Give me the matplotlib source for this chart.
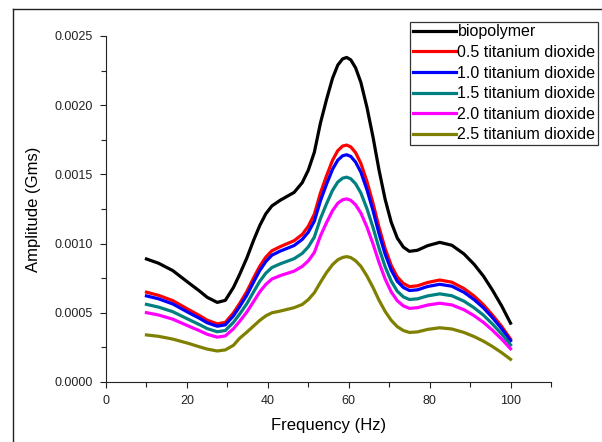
import matplotlib
matplotlib.use("Agg")
import matplotlib.pyplot as plt
import numpy as np
from matplotlib.lines import Line2D
from matplotlib.ticker import MultipleLocator, FormatStrFormatter

plt.rcParams.update({
    "font.family": ["Liberation Sans", "DejaVu Sans"],
    "font.size": 9,
})

# Frequency (Hz) positions
freq = [10, 13, 16.5, 20.5, 23, 25, 27.5, 29.5, 31.5, 33, 34.8, 36.5, 38, 39.5,
        41, 43, 46.5, 48.5, 50, 51.5, 53, 54.5, 56, 57.3, 58.5, 59.5, 60.5, 61.7,
        63, 64.5, 66, 67.5, 69, 70.5, 72, 73.5, 75, 77, 79.5, 82.5, 85.5, 88.5,
        91, 93.3, 95.5, 97.8, 100]

# Amplitude, in micro-Gms
biopolymer = [889, 858, 805, 715, 660, 612, 575, 590, 683, 775, 895, 1025, 1130, 1215,
              1272, 1312, 1370, 1440, 1530, 1660, 1870, 2040, 2195, 2290, 2335, 2345, 2328, 2270,
              2165, 1985, 1770, 1530, 1320, 1155, 1040, 975, 944, 952, 985, 1009, 988, 925,
              850, 765, 665, 550, 425]
tio2_05 = [649, 626, 588, 522, 482, 447, 420, 431, 499, 566, 653, 753, 836, 902,
           948, 977, 1021, 1066, 1125, 1212, 1365, 1489, 1602, 1672, 1705, 1712, 1699, 1657,
           1580, 1449, 1292, 1117, 964, 843, 759, 712, 689, 695, 719, 737, 721, 675,
           621, 558, 485, 402, 310]
tio2_10 = [622, 601, 564, 500, 462, 428, 403, 413, 478, 543, 627, 723, 805, 870,
           916, 945, 986, 1030, 1082, 1162, 1309, 1428, 1537, 1603, 1635, 1642, 1630, 1589,
           1516, 1390, 1239, 1071, 924, 809, 728, 683, 661, 666, 690, 706, 692, 648,
           595, 536, 466, 385, 298]
tio2_15 = [561, 541, 508, 451, 416, 386, 363, 372, 431, 489, 565, 652, 727, 786,
           827, 853, 891, 929, 976, 1047, 1180, 1287, 1385, 1445, 1473, 1480, 1469, 1432,
           1366, 1253, 1117, 965, 833, 729, 656, 615, 596, 601, 622, 637, 623, 584,
           536, 483, 420, 347, 268]
tio2_20 = [501, 484, 454, 403, 372, 345, 324, 333, 385, 437, 505, 582, 651, 705,
           744, 768, 801, 835, 875, 936, 1055, 1151, 1238, 1292, 1317, 1323, 1313, 1280,
           1221, 1120, 998, 863, 744, 651, 587, 550, 532, 537, 556, 569, 557, 522,
           479, 431, 375, 310, 240]
tio2_25 = [340, 330, 310, 278, 255, 238, 224, 232, 265, 315, 360, 405, 445, 478,
           500, 512, 537, 560, 595, 645, 720, 790, 848, 883, 900, 906, 899, 876,
           836, 766, 683, 590, 510, 446, 400, 372, 358, 362, 380, 392, 383, 358,
           328, 295, 257, 212, 164]

series = [biopolymer, tio2_05, tio2_10, tio2_15, tio2_20, tio2_25]
labels = ["biopolymer", "0.5 titanium dioxide", "1.0 titanium dioxide",
          "1.5 titanium dioxide", "2.0 titanium dioxide", "2.5 titanium dioxide"]
colors = ["black", "#ff0000", "#0000ff", "#008080", "#ff00ff", "#808000"]

fig = plt.figure(figsize=(6.02, 4.42), dpi=100)
ax = fig.add_axes([106 / 602, 1 - 382 / 442, (551 - 106) / 602, (382 - 36) / 442])

for vals, lab, col in zip(series, labels, colors):
    ax.plot(freq, np.array(vals) * 1e-6, color=col, lw=2.3, label=lab,
            solid_joinstyle="round")

ax.set_xlim(0, 110)
ax.set_ylim(0, 0.0025)
ax.xaxis.set_major_locator(MultipleLocator(20))
ax.xaxis.set_minor_locator(MultipleLocator(10))
ax.yaxis.set_major_locator(MultipleLocator(0.0005))
ax.yaxis.set_minor_locator(MultipleLocator(0.00025))
ax.yaxis.set_major_formatter(FormatStrFormatter("%.4f"))
ax.tick_params(which="major", length=4.5, width=0.8, colors="#222222",
               labelcolor="#222222", labelsize=9, pad=5)
ax.tick_params(which="minor", length=3.5, width=0.8, colors="#222222")

for s in ["top", "right"]:
    ax.spines[s].set_visible(False)
for s in ["left", "bottom"]:
    ax.spines[s].set_color("#222222")
    ax.spines[s].set_linewidth(0.8)

ax.set_xlabel("Frequency (Hz)", fontsize=12, labelpad=8)
ax.set_ylabel("Amplitude (Gms)", fontsize=12, labelpad=10)

leg = ax.legend(loc="upper right", bbox_to_anchor=(598 / 602, 1 - 22 / 442),
                bbox_transform=fig.transFigure, fontsize=11.5, frameon=True,
                fancybox=False, borderaxespad=0, borderpad=0.15,
                labelspacing=0.35, handlelength=2.7, handletextpad=0.1)
leg.get_frame().set_edgecolor("black")
leg.get_frame().set_linewidth(0.9)

# screenshot frame lines at top and left
fig.add_artist(Line2D([13 / 602, 1], [1 - 9 / 442, 1 - 9 / 442],
                      transform=fig.transFigure, color="#222222", lw=1))
fig.add_artist(Line2D([13 / 602, 13 / 602], [0, 1 - 9 / 442],
                      transform=fig.transFigure, color="#222222", lw=1))

fig.savefig("out.png", dpi=100)
